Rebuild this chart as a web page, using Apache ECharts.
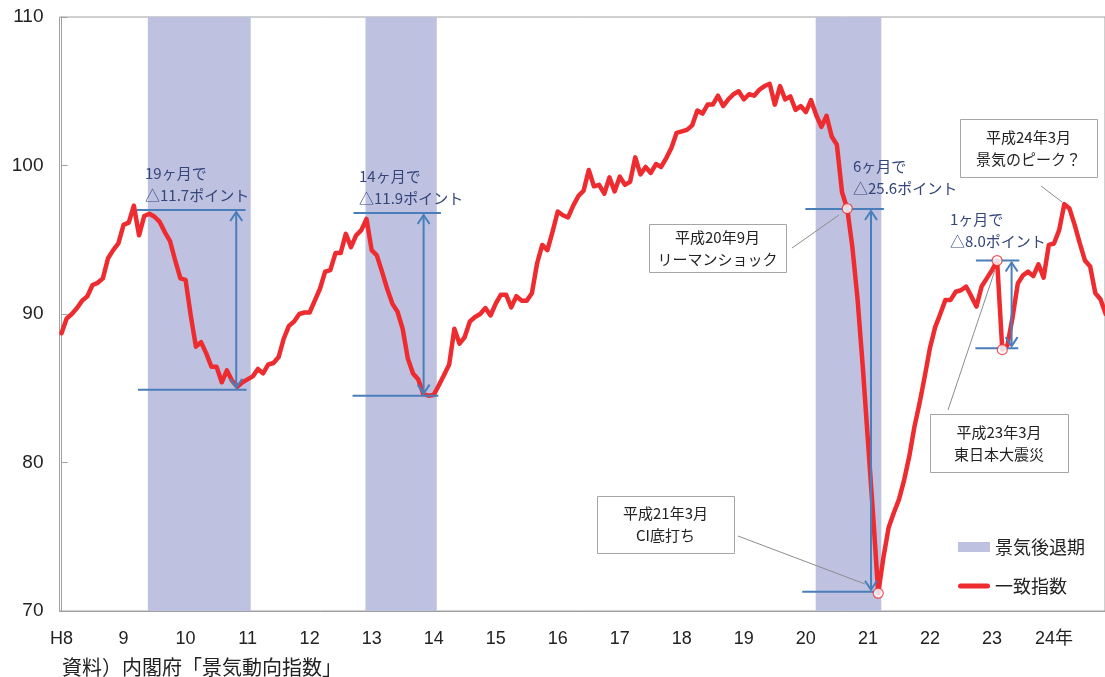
<!DOCTYPE html>
<html>
<head>
<meta charset="utf-8">
<script src="https://cdn.jsdelivr.net/npm/echarts@6/dist/echarts.min.js"></script>
<style>
html, body { margin: 0; padding: 0; background: #fff; }
#chart { width: 1105px; height: 677px; }
</style>
</head>
<body>
<div id="chart"></div>
<script>
// 一致指数 (月次) H8年1月 = 0 から
const ciValues = [
  88.7, 89.7, 90.0, 90.4, 90.9, 91.2, 91.95, 92.1, 92.4, 93.75, 94.3, 94.75,
  96.0, 96.15, 97.3, 95.3, 96.6, 96.75, 96.55, 96.2, 95.5, 94.9, 93.6, 92.4,
  92.3, 89.9, 87.8, 88.1, 87.35, 86.45, 86.45, 85.4, 86.2, 85.5, 85.1, 85.4,
  85.6, 85.8, 86.3, 86.0, 86.6, 86.7, 87.1, 88.35, 89.2, 89.5, 90.0, 90.1,
  90.1, 90.9, 91.7, 92.85, 92.95, 94.1, 94.1, 95.4, 94.5, 95.3, 95.65, 96.4,
  94.3, 93.95, 92.85, 91.7, 90.7, 90.15, 89.0, 87.0, 86.0, 85.6, 84.6, 84.5,
  84.55, 85.2, 85.9, 86.6, 89.0, 88.0, 88.45, 89.5, 89.8, 90.0, 90.4, 89.9,
  90.7, 91.3, 91.3, 90.45, 91.2, 90.9, 90.9, 91.4, 93.4, 94.65, 94.3, 95.55,
  96.9, 96.65, 96.5, 97.3, 97.95, 98.3, 99.7, 98.6, 98.7, 98.1, 99.2, 98.25,
  99.25, 98.7, 98.9, 100.55, 99.4, 99.9, 99.5, 100.1, 99.9, 100.5, 101.2, 102.2,
  102.3, 102.4, 102.7, 103.7, 103.5, 104.1, 104.1, 104.7, 104.0, 104.45, 104.8, 105.0,
  104.45, 104.8, 104.7, 105.1, 105.35, 105.5, 104.1, 105.35, 104.45, 104.65, 103.75, 104.0,
  103.6, 104.4, 103.4, 102.6, 103.35, 101.95, 101.4, 98.2, 97.1, 94.5, 91.0, 86.5,
  81.5, 76.5, 71.2, 73.6, 75.6, 76.6, 77.5, 78.8, 80.4, 82.4, 84.0, 85.8,
  87.7, 89.1, 90.0, 90.95, 90.95, 91.5, 91.6, 91.85, 91.2, 90.5, 91.85, 92.4,
  92.95, 93.6, 87.6, 87.9, 89.8, 92.05, 92.6, 92.85, 92.55, 93.35, 92.45, 94.65,
  94.75, 95.65, 97.4, 97.1, 96.0, 94.75, 93.6, 93.2, 91.4, 91.0, 90.0
];

const yearLabels = ['H8', '9', '10', '11', '12', '13', '14', '15', '16', '17',
  '18', '19', '20', '21', '22', '23', '24年'];

// 景気後退期 [開始月, 終了月]
const recessions = [[16.7, 36.6], [58.8, 72.6], [145.9, 158.6]];

// 丸印をつける月
const markedMonths = [152, 158, 181, 182];

// 下落幅の注記 [x1, x2, 値]
const dropTop = [[14.6, 35.6, 97.0], [56.5, 73.4, 96.8], [143.9, 159.1, 97.07], [176.9, 185.3, 93.6]];
const dropBottom = [[14.8, 35.8, 84.9], [56.3, 72.9, 84.5], [143.3, 158.0, 71.3], [176.8, 185.1, 87.7]];
const dropArrowX = [33.8, 70.05, 156.6, 183.8];
const dropTexts = ['19ヶ月で\n△11.7ポイント', '14ヶ月で\n△11.9ポイント', '6ヶ月で\n△25.6ポイント', '1ヶ月で\n△8.0ポイント'];

const calloutTexts = ['平成20年9月\nリーマンショック', '平成21年3月\nCI底打ち', '平成23年3月\n東日本大震災', '平成24年3月\n景気のピーク？'];

const FONT = "'Liberation Sans', 'Noto Sans CJK JP', sans-serif";
const JP = "'Noto Sans CJK JP', sans-serif";
const RED = '#EE2B2F';
const BLUE = '#4A7EBB';
const NAVY = '#34467A';

const chart = echarts.init(document.getElementById('chart'));

const lineData = ciValues.map((v, i) => [i, v]);
const circleData = markedMonths.map(m => [m, ciValues[m]]);
const dropData = dropTop.map((t, k) => [...t, ...dropBottom[k], dropArrowX[k]]);

// 注記テキストの配置 (ピクセル)
const dropTextPos = [[145, 163], [359, 166], [853, 156], [950, 209]];
const calloutBoxes = [
  { box: [649, 224, 137, 48], leader: [792, 248, 839, 215] },
  { box: [597, 496, 137, 57], leader: [738, 536, 865, 584] },
  { box: [930, 414, 138, 58], leader: [948, 410, 995, 270] },
  { box: [960, 119, 137, 58], leader: [1041, 186, 1062, 202] }
];

const graphics = [];
calloutBoxes.forEach((c, k) => {
  const [x, y, w, h] = c.box;
  graphics.push({
    type: 'line', silent: true, z: 10,
    shape: { x1: c.leader[0], y1: c.leader[1], x2: c.leader[2], y2: c.leader[3] },
    style: { stroke: '#8C8C8C', lineWidth: 1 }
  });
  graphics.push({
    type: 'rect', silent: true, z: 10,
    shape: { x: x + 0.5, y: y + 0.5, width: w, height: h },
    style: { fill: '#fff', stroke: '#A6A6A6', lineWidth: 1 }
  });
  graphics.push({
    type: 'text', silent: true, z: 11,
    style: {
      text: calloutTexts[k], x: x + w / 2, y: y + h / 2,
      align: 'center', verticalAlign: 'middle',
      font: '15px ' + JP, lineHeight: 22, fill: '#222'
    }
  });
});
dropTexts.forEach((t, k) => {
  graphics.push({
    type: 'text', silent: true, z: 11,
    style: {
      text: t, x: dropTextPos[k][0], y: dropTextPos[k][1],
      align: 'left', verticalAlign: 'top',
      font: '15px ' + JP, lineHeight: 21.5, fill: NAVY
    }
  });
});
graphics.push({
  type: 'text', silent: true,
  style: {
    text: '資料）内閣府「景気動向指数」', x: 62, y: 667,
    align: 'left', verticalAlign: 'middle',
    font: '20px ' + JP, fill: '#222'
  }
});

const option = {
  animation: false,
  grid: {
    left: 59.5, right: -2, top: 17, bottom: 66,
    show: true, borderColor: '#A0A0A0', borderWidth: 1
  },
  legend: {
    orient: 'vertical', left: 953, top: 533, itemGap: 21,
    itemWidth: 32, itemHeight: 10,
    textStyle: { fontSize: 18, color: '#222', fontFamily: JP },
    data: [
      { name: '景気後退期', icon: 'rect' },
      { name: '一致指数', icon: 'path://M2.5,0 L29.5,0 A2.5,2.5 0 0 1 29.5,5 L2.5,5 A2.5,2.5 0 0 1 2.5,0 Z' }
    ]
  },
  xAxis: {
    type: 'value', min: -0.39, max: 201.87,
    axisLine: { show: true, lineStyle: { color: '#A0A0A0' } },
    axisTick: { show: false },
    splitLine: { show: false },
    axisLabel: {
      customValues: yearLabels.map((_, k) => k * 12),
      formatter: v => yearLabels[Math.round(v / 12)],
      fontSize: 18, fontFamily: FONT, color: '#222', margin: 19
    }
  },
  yAxis: {
    type: 'value', min: 70, max: 110, interval: 10,
    axisLine: { show: true, lineStyle: { color: '#A0A0A0' } },
    axisTick: { show: true, inside: true, length: 6, lineStyle: { color: '#A0A0A0' } },
    splitLine: { show: false },
    axisLabel: { fontSize: 19, fontFamily: FONT, color: '#222', margin: 16 }
  },
  series: [
    {
      name: '景気後退期', type: 'custom', silent: true, z: 1,
      itemStyle: { color: '#BEC2E0' },
      encode: { x: [0, 1] },
      data: recessions,
      renderItem(params, api) {
        const p1 = api.coord([api.value(0), 110]);
        const p2 = api.coord([api.value(1), 70]);
        return {
          type: 'rect',
          shape: { x: p1[0], y: p1[1], width: p2[0] - p1[0], height: p2[1] - p1[1] },
          style: { fill: '#BEC2E0' }
        };
      }
    },
    {
      name: '一致指数', type: 'line', z: 3, symbol: 'none',
      lineStyle: { color: RED, width: 4.5, cap: 'round', join: 'round' },
      itemStyle: { color: RED },
      data: lineData
    },
    {
      name: 'drops', type: 'custom', silent: true, z: 4,
      encode: { x: [0, 1], y: 2 },
      data: dropData,
      renderItem(params, api) {
        const a = api.coord([api.value(0), api.value(2)]);
        const b = api.coord([api.value(1), api.value(2)]);
        const c = api.coord([api.value(3), api.value(5)]);
        const d = api.coord([api.value(4), api.value(5)]);
        const t = api.coord([api.value(6), api.value(2)]);
        const u = api.coord([api.value(6), api.value(5)]);
        const st = { stroke: BLUE, lineWidth: 2, fill: null };
        return {
          type: 'group',
          children: [
            { type: 'line', shape: { x1: a[0], y1: a[1], x2: b[0], y2: b[1] }, style: st },
            { type: 'line', shape: { x1: c[0], y1: c[1], x2: d[0], y2: d[1] }, style: st },
            { type: 'line', shape: { x1: t[0], y1: t[1] + 2, x2: u[0], y2: u[1] - 2 }, style: st },
            { type: 'polyline', shape: { points: [[t[0] - 6, t[1] + 11], [t[0], t[1] + 2], [t[0] + 6, t[1] + 11]] }, style: st },
            { type: 'polyline', shape: { points: [[u[0] - 6, u[1] - 11], [u[0], u[1] - 2], [u[0] + 6, u[1] - 11]] }, style: st }
          ]
        };
      }
    },
    {
      name: 'marks', type: 'scatter', z: 5, silent: true,
      symbol: 'circle', symbolSize: 10,
      itemStyle: { color: '#fff', borderColor: RED, borderWidth: 1.2 },
      data: circleData
    }
  ],
  graphic: graphics
};

chart.setOption(option);
</script>
</body>
</html>
